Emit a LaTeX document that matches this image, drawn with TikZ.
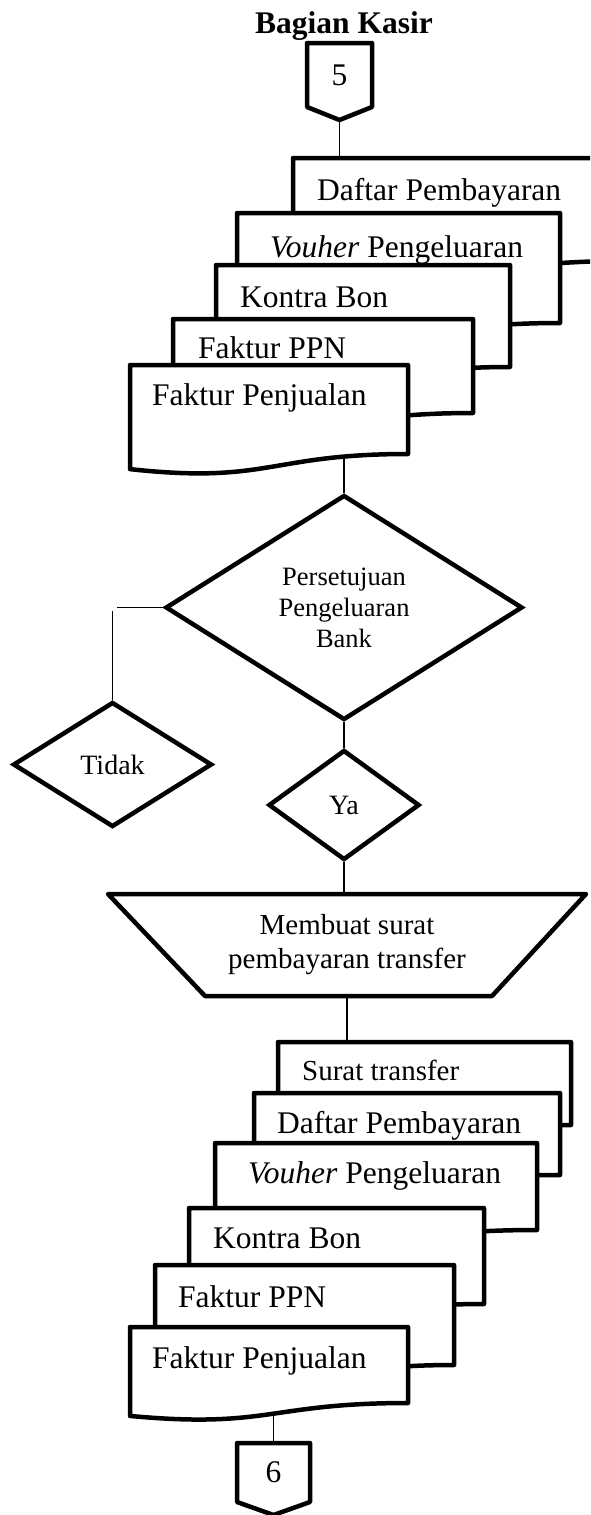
\documentclass[tikz,border=0pt]{standalone}
\usepackage{fontspec}
\setmainfont{Liberation Serif}
\usetikzlibrary{shapes.geometric,calc}

\tikzset{
  docshape/.style={draw=black, fill=white, line width=4.5pt, line join=round},
  offshape/.style={draw=black, line width=4.5pt, line join=round},
  doctext/.style={inner sep=0pt, anchor=base west, font=\fontsize{31.5}{36}\selectfont},
  dia/.style={diamond, draw=black, fill=white, line width=4.5pt, inner sep=0pt, align=center},
  conn/.style={draw=black, line width=1.3pt},
  offp/.style={draw=none, inner sep=0pt, outer sep=0pt, font=\fontsize{31.5}{36}\selectfont},
}

% document symbol: left, top, right, bottom-right, name, text x, text baseline, text
\newcommand\flowdoc[8]{%
  \pgfmathsetmacro\dW{#3-#1}%
  \pgfmathsetmacro\dD{0.17*(#4-#2)}%
  \draw[docshape] (#1,#2) -- (#3,#2) -- (#3,#4)
     .. controls ({#3-0.5*\dW},#4) and ({#1+0.5*\dW},{#4+2*\dD}) .. (#1,{#4+\dD}) -- cycle;
  \node[doctext] (#5) at (#6,#7) {#8};
}

\begin{document}
\begin{tikzpicture}[x=1pt,y=-1pt]
\useasboundingbox (0,0) rectangle (590,1515);
\clip (0,0) rectangle (590,1515);

% heading
\node[font=\bfseries\fontsize{31.5}{36}\selectfont, anchor=base, inner sep=0pt] (title) at (344,33) {Bagian Kasir};

% off-page connector 5
\node[offp, minimum width=65pt, minimum height=64pt] (c5) at (339.5,75) {5};
\draw[offshape] (c5.north west) -- (c5.north east) -- (c5.south east)
   -- ([yshift=-13pt]c5.south) coordinate (c5tip) -- (c5.south west) -- cycle;

% first stack of documents
\flowdoc{293}{158}{625}{261}{d1}{317}{200}{Daftar Pembayaran}
\flowdoc{237}{213}{560}{323}{d2}{270}{257}{\textit{Vouher} Pengeluaran}
\flowdoc{216}{265}{510}{367}{d3}{240}{307}{Kontra Bon}
\flowdoc{173}{319}{473}{413}{d4}{198}{358}{Faktur PPN}
\flowdoc{130}{365}{408}{454}{d5}{152}{405}{Faktur Penjualan}
\coordinate (d1top) at (339.5,158);
\coordinate (d5bot) at (344,458);

% decisions
\node[dia, minimum width=357pt, minimum height=225pt, font=\fontsize{26.5}{31}\selectfont] (q) at (344,607.5) {Persetujuan\\Pengeluaran\\Bank};
\node[dia, minimum width=199pt, minimum height=125pt, font=\fontsize{28}{32}\selectfont] (no) at (112.5,764.5) {Tidak};
\node[dia, minimum width=151pt, minimum height=110pt, font=\fontsize{28}{32}\selectfont] (ya) at (344,805) {Ya};
\coordinate (nocorner) at (117,607.5);
\coordinate (nodrop) at (112.5,611);

% manual operation
\node[font=\fontsize{29}{34}\selectfont, align=center, minimum width=478pt, minimum height=102pt, inner sep=0pt, outer sep=0pt] (trap) at (347,945) {Membuat surat\\pembayaran transfer};
\draw[offshape] (trap.north west) -- (trap.north east) -- ([xshift=-94pt]trap.south east)
   -- ([xshift=97pt]trap.south west) -- cycle;

% second stack of documents
\flowdoc{278}{1042}{571}{1125}{e1}{302}{1080}{\fontsize{29}{34}\selectfont Surat transfer}
\flowdoc{254}{1093}{560}{1175}{e2}{277}{1133}{Daftar Pembayaran}
\flowdoc{215}{1143}{537}{1230}{e3}{248}{1183}{\textit{Vouher} Pengeluaran}
\flowdoc{189}{1208}{484}{1304}{e4}{213}{1248}{Kontra Bon}
\flowdoc{155}{1265}{454}{1365}{e5}{178}{1307}{Faktur PPN}
\flowdoc{130}{1327}{408}{1403}{e6}{152}{1368}{Faktur Penjualan}
\coordinate (e1top) at (347,1042);
\coordinate (e6bot) at (273.5,1414);

% off-page connector 6
\node[offp, minimum width=73pt, minimum height=59pt] (c6) at (273.5,1472.5) {6};
\draw[offshape] (c6.north west) -- (c6.north east) -- (c6.south east)
   -- ([yshift=-13pt]c6.south) -- (c6.south west) -- cycle;

% flow lines
\draw[conn] (c5tip) -- (d1top);
\draw[conn] (d5bot) -- (q.north);
\draw[conn] (q.west) -- (nocorner);
\draw[conn] (nodrop) -- (no.north);
\draw[conn] (q.south) -- (ya.north);
\draw[conn] (ya.south) -- (ya.south |- trap.north);
\draw[conn] (trap.south) -- (e1top);
\draw[conn] (e6bot) -- (c6.north);
\end{tikzpicture}
\end{document}
